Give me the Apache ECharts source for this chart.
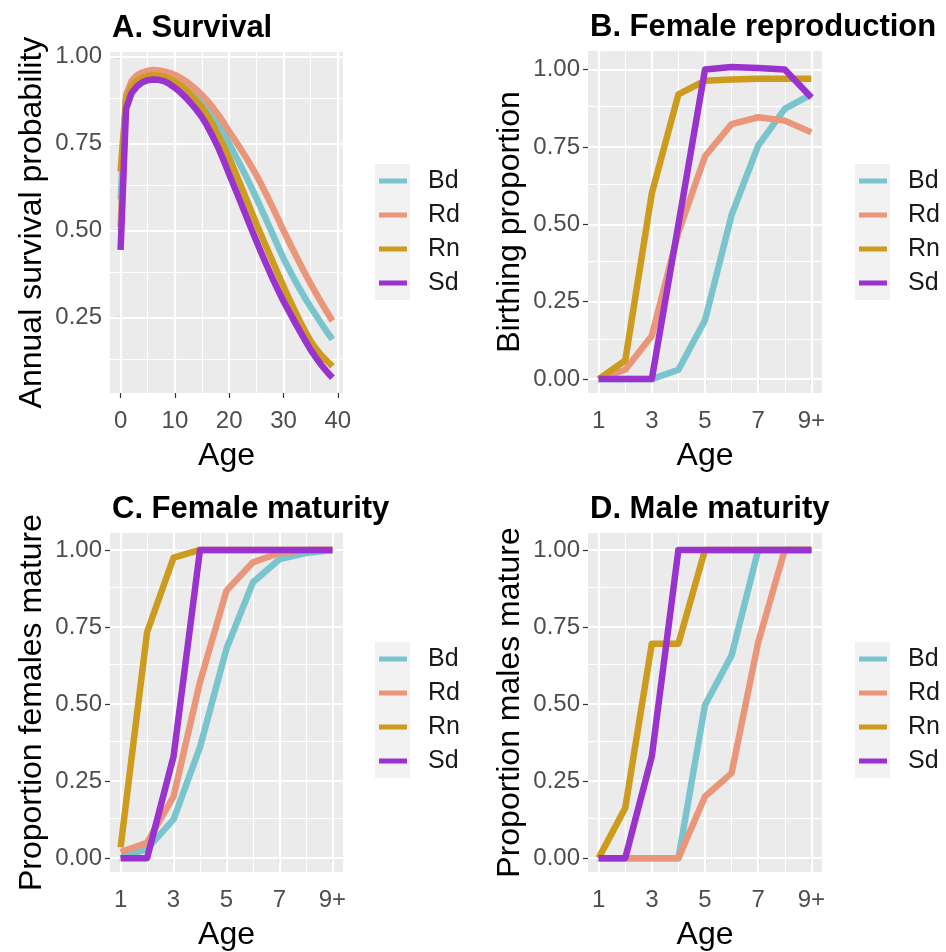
<!DOCTYPE html>
<html><head><meta charset="utf-8">
<script src="https://cdn.jsdelivr.net/npm/echarts@6/dist/echarts.min.js"></script>
<style>html,body{margin:0;padding:0;background:#fff}#c{width:946px;height:952px}</style>
</head><body><div id="c"></div>
<script>
// ---------- data ----------
const speciesNames = ['Bd', 'Rd', 'Rn', 'Sd'];

// Panel A: annual survival by age 0..39
const survivalAges = [0,1,2,3,4,5,6,7,8,9,10,11,12,13,14,15,16,17,18,19,20,21,22,23,24,25,26,27,28,29,30,31,32,33,34,35,36,37,38,39];
const survivalBd = [0.59,0.88,0.92,0.937,0.946,0.951,0.953,0.952,0.949,0.944,0.937,0.928,0.917,0.904,0.89,0.876,0.856,0.834,0.81,0.781,0.75,0.72,0.69,0.659,0.627,0.594,0.56,0.525,0.49,0.455,0.42,0.39,0.36,0.332,0.305,0.28,0.256,0.232,0.209,0.187];
const survivalRd = [0.51,0.89,0.93,0.947,0.955,0.96,0.962,0.961,0.958,0.954,0.948,0.94,0.93,0.918,0.905,0.89,0.873,0.854,0.833,0.81,0.785,0.762,0.738,0.713,0.687,0.66,0.63,0.599,0.567,0.534,0.5,0.468,0.437,0.406,0.376,0.347,0.319,0.292,0.266,0.24];
const survivalRn = [0.67,0.875,0.915,0.932,0.94,0.945,0.947,0.946,0.943,0.937,0.929,0.918,0.905,0.89,0.873,0.855,0.831,0.804,0.774,0.742,0.709,0.672,0.635,0.597,0.558,0.52,0.483,0.447,0.411,0.375,0.34,0.305,0.272,0.24,0.21,0.182,0.16,0.141,0.125,0.11];
const survivalSd = [0.445,0.85,0.895,0.915,0.927,0.933,0.935,0.934,0.93,0.922,0.911,0.898,0.883,0.866,0.847,0.826,0.8,0.77,0.738,0.701,0.662,0.624,0.586,0.547,0.508,0.47,0.433,0.397,0.362,0.329,0.297,0.268,0.239,0.211,0.184,0.157,0.134,0.113,0.094,0.077];

// Panels B-D: age classes 1..9+
const stageAges = [1,2,3,4,5,6,7,8,9];
const reproBd = [0,0,0,0.03,0.19,0.53,0.754,0.873,0.92];
const reproRd = [0,0.03,0.14,0.474,0.72,0.824,0.846,0.835,0.797];
const reproRn = [0,0.06,0.6,0.92,0.964,0.968,0.97,0.97,0.97];
const reproSd = [0,0,0,0.5,1.0,1.008,1.005,1.0,0.91];

const femMatBd = [0,0.03,0.126,0.36,0.68,0.895,0.97,0.99,1.0];
const femMatRd = [0.02,0.05,0.2,0.572,0.868,0.96,0.99,1.0,1.0];
const femMatRn = [0.035,0.733,0.975,1.0,1.0,1.0,1.0,1.0,1.0];
const femMatSd = [0,0,0.33,1.0,1.0,1.0,1.0,1.0,1.0];

const maleMatBd = [0,0,0,0,0.497,0.658,1.0,1.0,1.0];
const maleMatRd = [0,0,0,0,0.2,0.276,0.7,1.0,1.0];
const maleMatRn = [0,0.163,0.696,0.696,1.0,1.0,1.0,1.0,1.0];
const maleMatSd = [0,0,0.33,1.0,1.0,1.0,1.0,1.0,1.0];

// tick positions / labels
const survivalXTicks = [0,10,20,30,40];
const survivalXMinor = [5,15,25,35];
const survivalYTicks = [0.25,0.5,0.75,1.0];
const propYTicks = [0,0.25,0.5,0.75,1.0];
const propYMinor = [0.125,0.375,0.625,0.875];
const stageXTicks = [1,3,5,7,9];
const stageXLabels = ['1','3','5','7','9+'];
const stageXMinor = [2,4,6,8];

const panelTitles = ['A. Survival','B. Female reproduction','C. Female maturity','D. Male maturity'];
const yTitles = ['Annual survival probability','Birthing proportion','Proportion females mature','Proportion males mature'];
const xTitle = 'Age';

// ---------- style ----------
const colors = {Bd:'#7AC5CD', Rd:'#E9967A', Rn:'#CD9B1D', Sd:'#9A32CD'};
const FONT = "'Liberation Sans', Arial, sans-serif";

const panels = [
  {grid:{left:110,top:52,width:233,height:341}, xr:[-1.95,40.95], yr:[0.033,1.014],
   xt:survivalXTicks, xl:survivalXTicks.map(String), xm:survivalXMinor, yt:survivalYTicks, ym:propYMinor,
   xs:survivalAges, ys:[survivalBd,survivalRd,survivalRn,survivalSd], legend:[379,167.5], key:[375,164]},
  {grid:{left:588,top:51,width:234,height:342}, xr:[0.6,9.4], yr:[-0.045,1.06],
   xt:stageXTicks, xl:stageXLabels, xm:stageXMinor, yt:propYTicks, ym:propYMinor,
   xs:stageAges, ys:[reproBd,reproRd,reproRn,reproSd], legend:[859,167.5], key:[855,164]},
  {grid:{left:110,top:533,width:233,height:340}, xr:[0.6,9.4], yr:[-0.045,1.055],
   xt:stageXTicks, xl:stageXLabels, xm:stageXMinor, yt:propYTicks, ym:propYMinor,
   xs:stageAges, ys:[femMatBd,femMatRd,femMatRn,femMatSd], legend:[379,645.5], key:[375,642]},
  {grid:{left:588,top:533,width:234,height:340}, xr:[0.6,9.4], yr:[-0.045,1.055],
   xt:stageXTicks, xl:stageXLabels, xm:stageXMinor, yt:propYTicks, ym:propYMinor,
   xs:stageAges, ys:[maleMatBd,maleMatRd,maleMatRn,maleMatSd], legend:[859,645.5], key:[855,642]}
];

const option = {
  animation:false,
  backgroundColor:'#fff',
  textStyle:{fontFamily:FONT},
  title:[], grid:[], xAxis:[], yAxis:[], legend:[], series:[], graphic:[]
};

panels.forEach((p, i) => {
  option.title.push({text:panelTitles[i], left:p.grid.left+2, top:p.grid.top-39, padding:0,
    textStyle:{fontFamily:FONT, fontSize:31, fontWeight:'bold', color:'#000'}});
  option.grid.push(Object.assign({show:true, backgroundColor:'#EBEBEB', borderWidth:0, containLabel:false}, p.grid));
  const xl = p.xl, xt = p.xt;
  option.xAxis.push({type:'value', gridIndex:i, min:p.xr[0], max:p.xr[1],
    name:xTitle, nameLocation:'middle', nameGap:47,
    nameTextStyle:{fontFamily:FONT, fontSize:32, color:'#000'},
    axisLine:{show:false}, splitLine:{show:false},
    axisTick:{show:true, length:5, lineStyle:{color:'#333', width:1.2}, customValues:xt},
    axisLabel:{show:true, customValues:xt, margin:16, fontFamily:FONT, fontSize:24, color:'#4D4D4D',
      formatter:v => { const k = xt.indexOf(v); return k >= 0 ? xl[k] : ''; }}});
  option.yAxis.push({type:'value', gridIndex:i, min:p.yr[0], max:p.yr[1],
    name:yTitles[i], nameLocation:'middle', nameGap:62, nameRotate:90,
    nameTextStyle:{fontFamily:FONT, fontSize:32, color:'#000'},
    axisLine:{show:false}, splitLine:{show:false},
    axisTick:{show:true, length:5, lineStyle:{color:'#333', width:1.2}, customValues:p.yt},
    axisLabel:{show:true, customValues:p.yt, margin:8, fontFamily:FONT, fontSize:24, color:'#4D4D4D',
      formatter:v => v.toFixed(2)}});
  // gridlines (white) through the axis scale
  const ml = [];
  p.xm.forEach(v => ml.push({xAxis:v, lineStyle:{width:1.1, color:'#fff', type:'solid'}}));
  p.ym.forEach(v => ml.push({yAxis:v, lineStyle:{width:1.1, color:'#fff', type:'solid'}}));
  xt.forEach(v => ml.push({xAxis:v, lineStyle:{width:2.2, color:'#fff', type:'solid'}}));
  p.yt.forEach(v => ml.push({yAxis:v, lineStyle:{width:2.2, color:'#fff', type:'solid'}}));
  option.series.push({type:'line', name:'grid'+i, xAxisIndex:i, yAxisIndex:i, data:[], silent:true, z:1,
    markLine:{silent:true, z:1, symbol:['none','none'], label:{show:false}, emphasis:{disabled:true}, animation:false, data:ml}});
  speciesNames.forEach((sp, j) => {
    option.series.push({type:'line', name:sp, xAxisIndex:i, yAxisIndex:i, z:3,
      data:p.xs.map((x, k) => [x, p.ys[j][k]]),
      showSymbol:false, symbol:'none', smooth:false,
      lineStyle:{width:6.5, color:colors[sp], join:'round', cap:'butt'},
      itemStyle:{color:colors[sp]}, emphasis:{disabled:true}});
  });
  option.legend.push({data:speciesNames, orient:'vertical', left:p.legend[0], top:p.legend[1], padding:0,
    itemWidth:28, itemHeight:5, itemGap:7, icon:'rect', selectedMode:false,
    textStyle:{fontFamily:FONT, fontSize:25, color:'#1A1A1A', lineHeight:27, padding:[0,0,0,16]}});
  option.graphic.push({type:'rect', left:p.key[0], top:p.key[1], z:-1, silent:true,
    shape:{width:35, height:136}, style:{fill:'#F2F2F2'}});
});

const chart = echarts.init(document.getElementById('c'), null, {renderer:'canvas'});
chart.setOption(option);
</script></body></html>
